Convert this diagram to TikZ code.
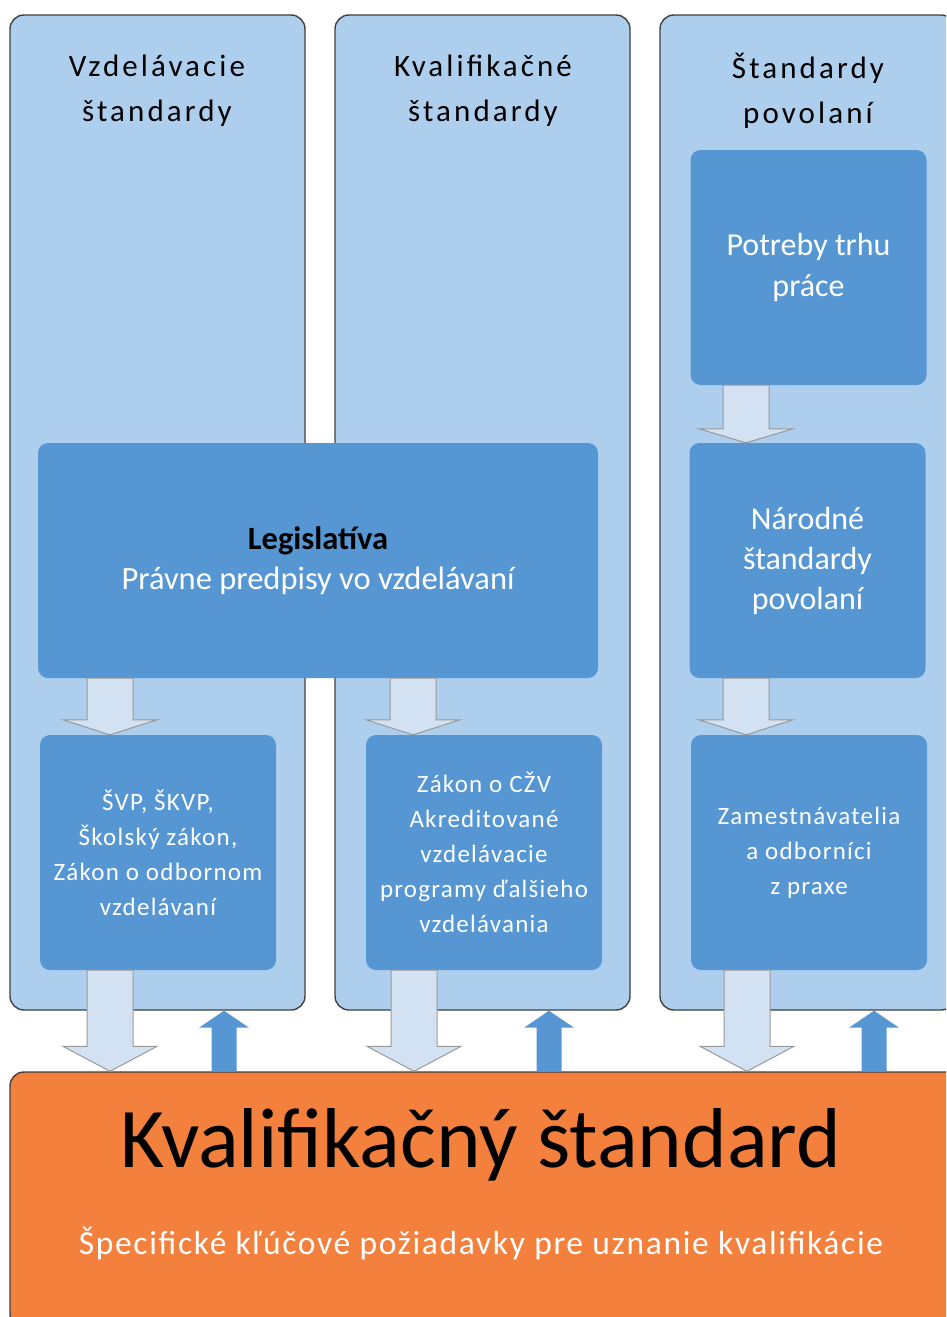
\documentclass[tikz,border=0pt]{standalone}
\usepackage{fontspec}
\setmainfont{Carlito}
\newfontfamily\spacedfont[LetterSpace=10]{Carlito}
\newfontfamily\itemfont[LetterSpace=5]{Carlito}
\usetikzlibrary{calc}

\definecolor{colbg}{RGB}{174,206,237}
\definecolor{boxblue}{RGB}{86,151,211}
\definecolor{arrowfill}{RGB}{211,226,243}
\definecolor{ksorange}{RGB}{243,129,61}

\tikzset{
  column/.style={draw=black!75, line width=1.4pt, fill=colbg, rounded corners=14pt,
    minimum width=295pt, minimum height=995pt, inner sep=0pt},
  itembox/.style={fill=boxblue, rounded corners=10pt, text=white, align=center,
    minimum width=236pt, minimum height=235pt, inner sep=0pt},
  coltitle/.style={align=center, font=\spacedfont\fontsize{31}{45}\selectfont},
  itemtext/.style={font=\itemfont\fontsize{25}{35}\selectfont},
  downarr/.style={draw=black!40, line width=1pt, fill=arrowfill},
  uparr/.style={fill=boxblue},
}

% block arrow pointing down: x, from, to, head length
\newcommand{\flowdown}[4]{%
  \path[downarr] let \p1=(#2), \p2=(#3) in
    (#1pt-23pt,\y1) -- (#1pt+23pt,\y1) -- (#1pt+23pt,\y2+#4pt) -- (#1pt+47pt,\y2+#4pt)
    -- (#1pt,\y2) -- (#1pt-47pt,\y2+#4pt) -- (#1pt-23pt,\y2+#4pt) -- cycle;
}
% block arrow pointing up: x, from, to, head length
\newcommand{\flowup}[4]{%
  \path[uparr] let \p1=(#2), \p2=(#3) in
    (#1pt-12.5pt,\y1) -- (#1pt+12.5pt,\y1) -- (#1pt+12.5pt,\y2-#4pt) -- (#1pt+25pt,\y2-#4pt)
    -- (#1pt,\y2) -- (#1pt-25pt,\y2-#4pt) -- (#1pt-12.5pt,\y2-#4pt) -- cycle;
}

\begin{document}
\begin{tikzpicture}[x=1pt,y=-1pt]
\useasboundingbox (0,0) rectangle (946,1317);
\clip (0,0) rectangle (946,1317);

% columns
\node[column] (colA) at (157.5,512.5) {};
\node[column] (colB) at (482.5,512.5) {};
\node[column] (colC) at (807.5,512.5) {};
\node[coltitle] (titleA) at (157,91) {Vzdelávacie\\štandardy};
\node[coltitle] (titleB) at (483,91) {Kvalifikačné\\štandardy};
\node[coltitle] (titleC) at (808,91) {Štandardy\\povolaní};

% boxes
\node[itembox, minimum width=560pt, font=\fontsize{32.5}{40}\selectfont] (legis) at (318,560.5)
  {\textcolor{black}{\bfseries Legislatíva}\\Právne predpisy vo vzdelávaní};
\node[itembox, font=\fontsize{32}{41}\selectfont] (trh) at (808.5,267.5) {Potreby trhu\\práce};
\node[itembox, font=\fontsize{32}{40}\selectfont] (narodne) at (807.5,560.5) {Národné\\štandardy\\povolaní};
\node[itembox, itemtext] (boxA) at (158,852.5) {ŠVP, ŠKVP,\\Školský zákon,\\Zákon o odbornom\\vzdelávaní};
\node[itembox, itemtext] (boxB) at (484,852.5) {Zákon o CŽV\\Akreditované\\vzdelávacie\\programy ďalšieho\\vzdelávania};
\node[itembox, itemtext] (boxC) at (809,852.5) {Zamestnávatelia\\a odborníci\\z praxe};

% qualification standard
\node[draw=black!75, line width=1.4pt, fill=ksorange, rounded corners=14pt,
  minimum width=980pt, minimum height=256pt, inner sep=0pt] (ks) at (500,1200) {};
\node[font=\fontsize{85}{90}\selectfont] (kstitle) at (481,1145) {Kvalifikačný štandard};
\node[text=white, font=\itemfont\fontsize{33.5}{40}\selectfont] (kssub) at (481,1243)
  {Špecifické kľúčové požiadavky pre uznanie kvalifikácie};

% arrows
\flowdown{746}{trh.south}{narodne.north}{14}
\flowdown{110}{legis.south}{boxA.north}{15}
\flowdown{413}{legis.south}{boxB.north}{15}
\flowdown{746}{narodne.south}{boxC.north}{15}
\flowdown{110}{boxA.south}{ks.north}{25}
\flowdown{414}{boxB.south}{ks.north}{25}
\flowdown{747}{boxC.south}{ks.north}{25}
\flowup{224}{ks.north}{colA.south}{17}
\flowup{549}{ks.north}{colB.south}{17}
\flowup{874}{ks.north}{colC.south}{17}
\end{tikzpicture}
\end{document}
